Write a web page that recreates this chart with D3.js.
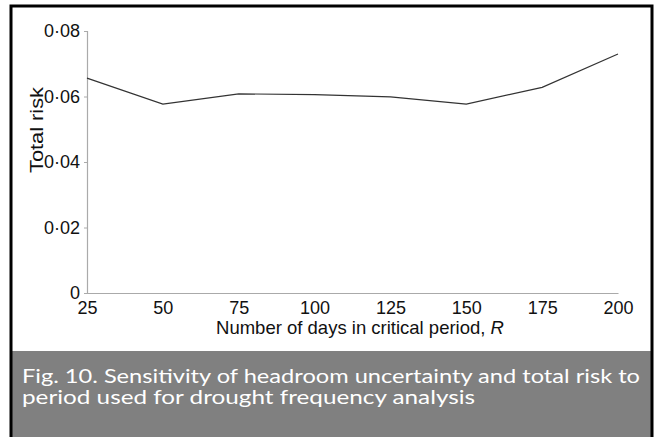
<!DOCTYPE html>
<html>
<head>
<meta charset="utf-8">
<script src="https://cdn.jsdelivr.net/npm/d3@7"></script>
<style>
  html, body { margin: 0; padding: 0; background: #fff; }
  svg { display: block; }
</style>
</head>
<body>
<svg id="chart" width="655" height="437"></svg>
<script>
const days = [25, 50, 75, 100, 125, 150, 175, 200];
const totalRisk = [0.0656, 0.0577, 0.0608, 0.0606, 0.0599, 0.0577, 0.0628, 0.0730];
const yTicks = [0, 0.02, 0.04, 0.06, 0.08];
const xTicks = [25, 50, 75, 100, 125, 150, 175, 200];
const xTitle = "Number of days in critical period, ";
const xTitleVar = "R";
const yTitle = "Total risk";
const captionLines = [
  "Fig. 10. Sensitivity of headroom uncertainty and total risk to",
  "period used for drought frequency analysis"
];

const svg = d3.select("#chart");
const W = 655, H = 437;
const sans = "'Liberation Sans', Arial, sans-serif";

svg.append("rect").attr("x", 0).attr("y", 0).attr("width", W).attr("height", H).attr("fill", "#fff");
svg.append("rect").attr("x", 11).attr("y", 351).attr("width", 641).attr("height", 86).attr("fill", "#808080");
svg.append("path")
  .attr("d", "M11,437 L11,6 L652,6 L652,437")
  .attr("fill", "none").attr("stroke", "#000").attr("stroke-width", 3);

const x = d3.scaleLinear().domain([25, 200]).range([87, 618]);
const y = d3.scaleLinear().domain([0, 0.08]).range([293, 31]);

const fmt = d => d === 0 ? "0" : d3.format(".2f")(d).replace(".", "\u00B7");

const gy = svg.append("g").attr("transform", "translate(87,0)")
  .call(d3.axisLeft(y).tickValues(yTicks).tickFormat(fmt).tickSize(3).tickPadding(4));
gy.select(".domain").attr("stroke", "#aaa").attr("stroke-width", 1.2);
gy.selectAll(".tick line").attr("stroke", "#aaa");
gy.selectAll(".tick text").attr("font-family", sans).attr("font-size", 18).attr("fill", "#111");

const gx = svg.append("g").attr("transform", "translate(0,293)")
  .call(d3.axisBottom(x).tickValues(xTicks).tickFormat(d3.format("d")).tickSize(0).tickPadding(8));
gx.select(".domain").attr("stroke", "#aaa").attr("stroke-width", 1.2);
gx.selectAll(".tick text").attr("font-family", sans).attr("font-size", 18).attr("fill", "#111");

const line = d3.line().x((d, i) => x(days[i])).y(d => y(d));
svg.append("path").datum(totalRisk)
  .attr("d", line).attr("fill", "none").attr("stroke", "#333").attr("stroke-width", 1.2);

const xt = svg.append("text").attr("x", 360).attr("y", 334).attr("text-anchor", "middle")
  .attr("font-family", sans).attr("font-size", 18.5).attr("fill", "#111");
xt.append("tspan").text(xTitle);
xt.append("tspan").attr("font-style", "italic").text(xTitleVar);

svg.append("text").attr("transform", "translate(43,130) rotate(-90)").attr("text-anchor", "middle")
  .attr("font-family", sans).attr("font-size", 18).attr("fill", "#111")
  .attr("textLength", 86).attr("lengthAdjust", "spacingAndGlyphs")
  .text(yTitle);

const capLen = [618, 453];
svg.selectAll("text.caption").data(captionLines).join("text")
  .attr("class", "caption")
  .attr("x", 22).attr("y", (d, i) => 383 + i * 21)
  .attr("font-family", "Lato, 'Open Sans', sans-serif").attr("font-size", 19.5).attr("fill", "#fff")
  .attr("textLength", (d, i) => capLen[i]).attr("lengthAdjust", "spacingAndGlyphs")
  .text(d => d);
</script>
</body>
</html>
